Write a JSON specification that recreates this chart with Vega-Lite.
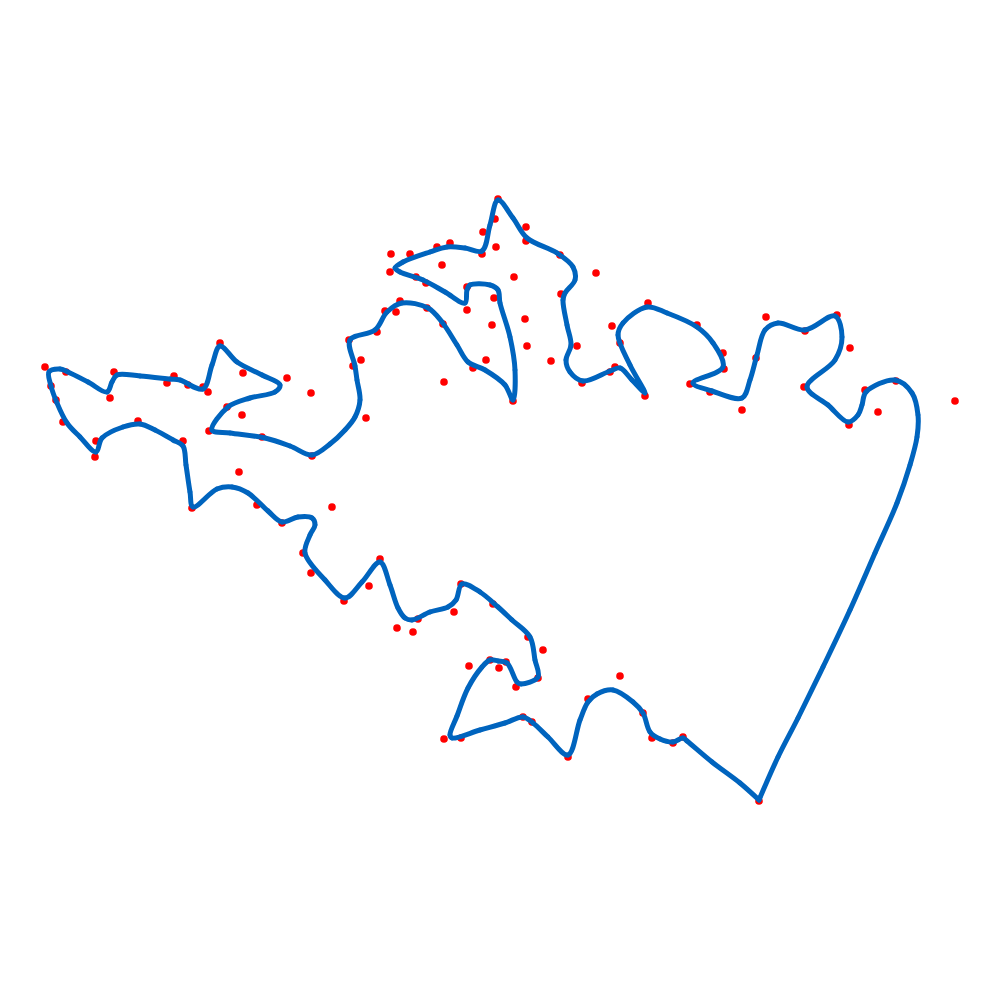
{
  "$schema": "https://vega.github.io/schema/vega-lite/v6.json",
  "width": 1000,
  "height": 1000,
  "autosize": {"type": "none"},
  "padding": 0,
  "config": {"view": {"stroke": null}},
  "datasets": {
    "ctrl": [
      {"x":45,"y":367},{"x":66,"y":372},{"x":51,"y":386},{"x":56,"y":400},{"x":114,"y":372},{"x":110,"y":398},{"x":220,"y":343},{"x":243,"y":373},{"x":167,"y":383},{"x":174,"y":376},{"x":188,"y":385},{"x":203,"y":387},{"x":208,"y":392},{"x":63,"y":422},{"x":96,"y":441},{"x":95,"y":457},{"x":138,"y":421},{"x":183,"y":441},{"x":192,"y":508},{"x":209,"y":431},{"x":227,"y":407},{"x":242,"y":415},{"x":239,"y":472},{"x":262,"y":437},{"x":257,"y":505},
      {"x":498,"y":199},{"x":495,"y":219},{"x":483,"y":232},{"x":496,"y":247},{"x":482,"y":254},{"x":437,"y":247},{"x":450,"y":243},{"x":410,"y":254},{"x":391,"y":254},{"x":390,"y":272},{"x":442,"y":265},{"x":416,"y":277},{"x":426,"y":283},{"x":467,"y":287},{"x":494,"y":298},{"x":467,"y":310},{"x":400,"y":301},{"x":385,"y":311},{"x":396,"y":312},{"x":427,"y":308},{"x":443,"y":324},{"x":492,"y":325},{"x":377,"y":332},{"x":349,"y":340},{"x":361,"y":360},{"x":353,"y":366},{"x":473,"y":368},{"x":486,"y":360},{"x":444,"y":382},{"x":287,"y":378},{"x":311,"y":393},{"x":366,"y":418},
      {"x":312,"y":456},{"x":332,"y":507},{"x":282,"y":523},{"x":303,"y":553},{"x":311,"y":573},{"x":344,"y":601},{"x":369,"y":586},{"x":380,"y":559},{"x":461,"y":584},{"x":493,"y":604},{"x":454,"y":612},{"x":418,"y":619},{"x":397,"y":628},{"x":413,"y":632},{"x":469,"y":666},{"x":490,"y":660},{"x":499,"y":668},{"x":444,"y":739},{"x":461,"y":738},{"x":528,"y":637},{"x":543,"y":650},{"x":506,"y":662},{"x":538,"y":678},{"x":516,"y":687},{"x":523,"y":717},{"x":532,"y":722},{"x":568,"y":757},{"x":588,"y":699},{"x":620,"y":676},{"x":643,"y":713},{"x":652,"y":738},{"x":673,"y":743},{"x":683,"y":737},{"x":759,"y":801},
      {"x":526,"y":227},{"x":526,"y":241},{"x":514,"y":277},{"x":560,"y":255},{"x":596,"y":273},{"x":561,"y":294},{"x":525,"y":319},{"x":527,"y":346},{"x":577,"y":346},{"x":551,"y":361},{"x":582,"y":383},{"x":513,"y":401},{"x":612,"y":326},{"x":620,"y":343},{"x":615,"y":367},{"x":610,"y":372},{"x":648,"y":303},{"x":697,"y":325},{"x":723,"y":353},{"x":724,"y":369},{"x":690,"y":384},{"x":710,"y":392},{"x":645,"y":396},
      {"x":766,"y":317},{"x":805,"y":331},{"x":837,"y":315},{"x":850,"y":348},{"x":756,"y":358},{"x":804,"y":387},{"x":865,"y":390},{"x":896,"y":381},{"x":955,"y":401},{"x":742,"y":410},{"x":849,"y":425},{"x":878,"y":412}
    ],
    "curve": [
      {"i":0,"x":759,"y":800},{"i":1,"x":740,"y":783},{"i":2,"x":712,"y":762},{"i":3,"x":687,"y":741},{"i":4,"x":683,"y":738},{"i":5,"x":673,"y":742},{"i":6,"x":660,"y":739},{"i":7,"x":650,"y":732},{"i":8,"x":643,"y":713},{"i":9,"x":633,"y":702},
      {"i":10,"x":613,"y":690},{"i":11,"x":597,"y":694},{"i":12,"x":588,"y":702},{"i":13,"x":580,"y":720},{"i":14,"x":568,"y":755},{"i":15,"x":548,"y":737},{"i":16,"x":533,"y":723},{"i":17,"x":523,"y":717},{"i":18,"x":505,"y":723},{"i":19,"x":480,"y":730},
      {"i":20,"x":452,"y":738},{"i":21,"x":450,"y":735},{"i":22,"x":457,"y":716},{"i":23,"x":468,"y":688},{"i":24,"x":482,"y":667},{"i":25,"x":490,"y":660},{"i":26,"x":498,"y":661},{"i":27,"x":507,"y":663},{"i":28,"x":517,"y":682},{"i":29,"x":521,"y":684},
      {"i":30,"x":538,"y":677},{"i":31,"x":535,"y":660},{"i":32,"x":530,"y":637},{"i":33,"x":512,"y":620},{"i":34,"x":498,"y":607},{"i":35,"x":480,"y":592},{"i":36,"x":462,"y":584},{"i":37,"x":456,"y":600},{"i":38,"x":448,"y":607},{"i":39,"x":430,"y":612},
      {"i":40,"x":412,"y":620},{"i":41,"x":405,"y":618},{"i":42,"x":398,"y":608},{"i":43,"x":390,"y":585},{"i":44,"x":380,"y":562},{"i":45,"x":362,"y":582},{"i":46,"x":345,"y":598},{"i":47,"x":325,"y":580},{"i":48,"x":305,"y":553},{"i":49,"x":310,"y":535},
      {"i":50,"x":315,"y":525},{"i":51,"x":312,"y":518},{"i":52,"x":298,"y":517},{"i":53,"x":282,"y":522},{"i":54,"x":268,"y":511},{"i":55,"x":248,"y":493},{"i":56,"x":232,"y":487},{"i":57,"x":217,"y":489},{"i":58,"x":193,"y":507},{"i":59,"x":190,"y":492},
      {"i":60,"x":186,"y":465},{"i":61,"x":183,"y":446},{"i":62,"x":173,"y":440},{"i":63,"x":155,"y":430},{"i":64,"x":140,"y":424},{"i":65,"x":123,"y":427},{"i":66,"x":102,"y":438},{"i":67,"x":96,"y":452},{"i":68,"x":80,"y":437},{"i":69,"x":67,"y":423},
      {"i":70,"x":57,"y":403},{"i":71,"x":51,"y":386},{"i":72,"x":49,"y":372},{"i":73,"x":60,"y":369},{"i":74,"x":68,"y":372},{"i":75,"x":88,"y":382},{"i":76,"x":107,"y":392},{"i":77,"x":112,"y":382},{"i":78,"x":117,"y":375},{"i":79,"x":140,"y":376},
      {"i":80,"x":170,"y":379},{"i":81,"x":180,"y":380},{"i":82,"x":203,"y":389},{"i":83,"x":212,"y":365},{"i":84,"x":220,"y":346},{"i":85,"x":237,"y":362},{"i":86,"x":262,"y":375},{"i":87,"x":280,"y":385},{"i":88,"x":275,"y":392},{"i":89,"x":250,"y":398},
      {"i":90,"x":228,"y":407},{"i":91,"x":212,"y":430},{"i":92,"x":230,"y":433},{"i":93,"x":265,"y":438},{"i":94,"x":290,"y":446},{"i":95,"x":312,"y":455},{"i":96,"x":330,"y":444},{"i":97,"x":345,"y":430},{"i":98,"x":355,"y":417},{"i":99,"x":360,"y":400},
      {"i":100,"x":357,"y":380},{"i":101,"x":355,"y":366},{"i":102,"x":350,"y":340},{"i":103,"x":375,"y":330},{"i":104,"x":387,"y":312},{"i":105,"x":402,"y":303},{"i":106,"x":428,"y":308},{"i":107,"x":442,"y":322},{"i":108,"x":457,"y":345},{"i":109,"x":468,"y":362},
      {"i":110,"x":485,"y":370},{"i":111,"x":505,"y":385},{"i":112,"x":513,"y":400},{"i":113,"x":515,"y":370},{"i":114,"x":510,"y":337},{"i":115,"x":500,"y":303},{"i":116,"x":498,"y":290},{"i":117,"x":490,"y":285},{"i":118,"x":470,"y":285},{"i":119,"x":467,"y":290},
      {"i":120,"x":465,"y":303},{"i":121,"x":445,"y":292},{"i":122,"x":423,"y":280},{"i":123,"x":400,"y":272},{"i":124,"x":395,"y":268},{"i":125,"x":403,"y":262},{"i":126,"x":430,"y":252},{"i":127,"x":447,"y":247},{"i":128,"x":465,"y":248},{"i":129,"x":482,"y":251},
      {"i":130,"x":490,"y":225},{"i":131,"x":498,"y":200},{"i":132,"x":513,"y":218},{"i":133,"x":527,"y":238},{"i":134,"x":557,"y":253},{"i":135,"x":573,"y":267},{"i":136,"x":575,"y":280},{"i":137,"x":565,"y":293},{"i":138,"x":563,"y":300},{"i":139,"x":567,"y":325},
      {"i":140,"x":571,"y":345},{"i":141,"x":566,"y":360},{"i":142,"x":570,"y":372},{"i":143,"x":583,"y":381},{"i":144,"x":610,"y":371},{"i":145,"x":620,"y":368},{"i":146,"x":632,"y":380},{"i":147,"x":645,"y":393},{"i":148,"x":630,"y":365},{"i":149,"x":618,"y":335},
      {"i":150,"x":623,"y":323},{"i":151,"x":647,"y":307},{"i":152,"x":667,"y":313},{"i":153,"x":697,"y":327},{"i":154,"x":713,"y":343},{"i":155,"x":723,"y":367},{"i":156,"x":693,"y":383},{"i":157,"x":712,"y":391},{"i":158,"x":742,"y":398},{"i":159,"x":750,"y":380},
      {"i":160,"x":757,"y":355},{"i":161,"x":765,"y":330},{"i":162,"x":778,"y":323},{"i":163,"x":805,"y":330},{"i":164,"x":835,"y":316},{"i":165,"x":842,"y":337},{"i":166,"x":835,"y":360},{"i":167,"x":807,"y":387},{"i":168,"x":828,"y":405},{"i":169,"x":848,"y":422},
      {"i":170,"x":858,"y":415},{"i":171,"x":862,"y":405},{"i":172,"x":866,"y":392},{"i":173,"x":895,"y":380},{"i":174,"x":912,"y":393},{"i":175,"x":918,"y":415},{"i":176,"x":917,"y":437},{"i":177,"x":910,"y":465},{"i":178,"x":897,"y":503},{"i":179,"x":875,"y":553},
      {"i":180,"x":850,"y":610},{"i":181,"x":823,"y":667},{"i":182,"x":798,"y":718},{"i":183,"x":778,"y":757},{"i":184,"x":759,"y":800}
    ]
  },
  "layer": [
    {
      "data": {"name": "ctrl"},
      "mark": {"type": "circle", "color": "#ff0000", "opacity": 1, "size": 58},
      "encoding": {
        "x": {"field": "x", "type": "quantitative", "scale": {"domain": [0, 1000], "nice": false, "zero": false}, "axis": null},
        "y": {"field": "y", "type": "quantitative", "scale": {"domain": [0, 1000], "nice": false, "zero": false, "reverse": true}, "axis": null}
      }
    },
    {
      "data": {"name": "curve"},
      "mark": {"type": "line", "color": "#0064be", "strokeWidth": 5, "interpolate": "catmull-rom", "strokeJoin": "round", "strokeCap": "round"},
      "encoding": {
        "x": {"field": "x", "type": "quantitative", "scale": {"domain": [0, 1000], "nice": false, "zero": false}, "axis": null},
        "y": {"field": "y", "type": "quantitative", "scale": {"domain": [0, 1000], "nice": false, "zero": false, "reverse": true}, "axis": null},
        "order": {"field": "i", "type": "quantitative"}
      }
    },
    {
      "data": {"name": "curve"},
      "mark": {"type": "circle", "color": "#0064be", "opacity": 1, "size": 24},
      "encoding": {
        "x": {"field": "x", "type": "quantitative", "scale": {"domain": [0, 1000], "nice": false, "zero": false}, "axis": null},
        "y": {"field": "y", "type": "quantitative", "scale": {"domain": [0, 1000], "nice": false, "zero": false, "reverse": true}, "axis": null}
      }
    }
  ]
}
